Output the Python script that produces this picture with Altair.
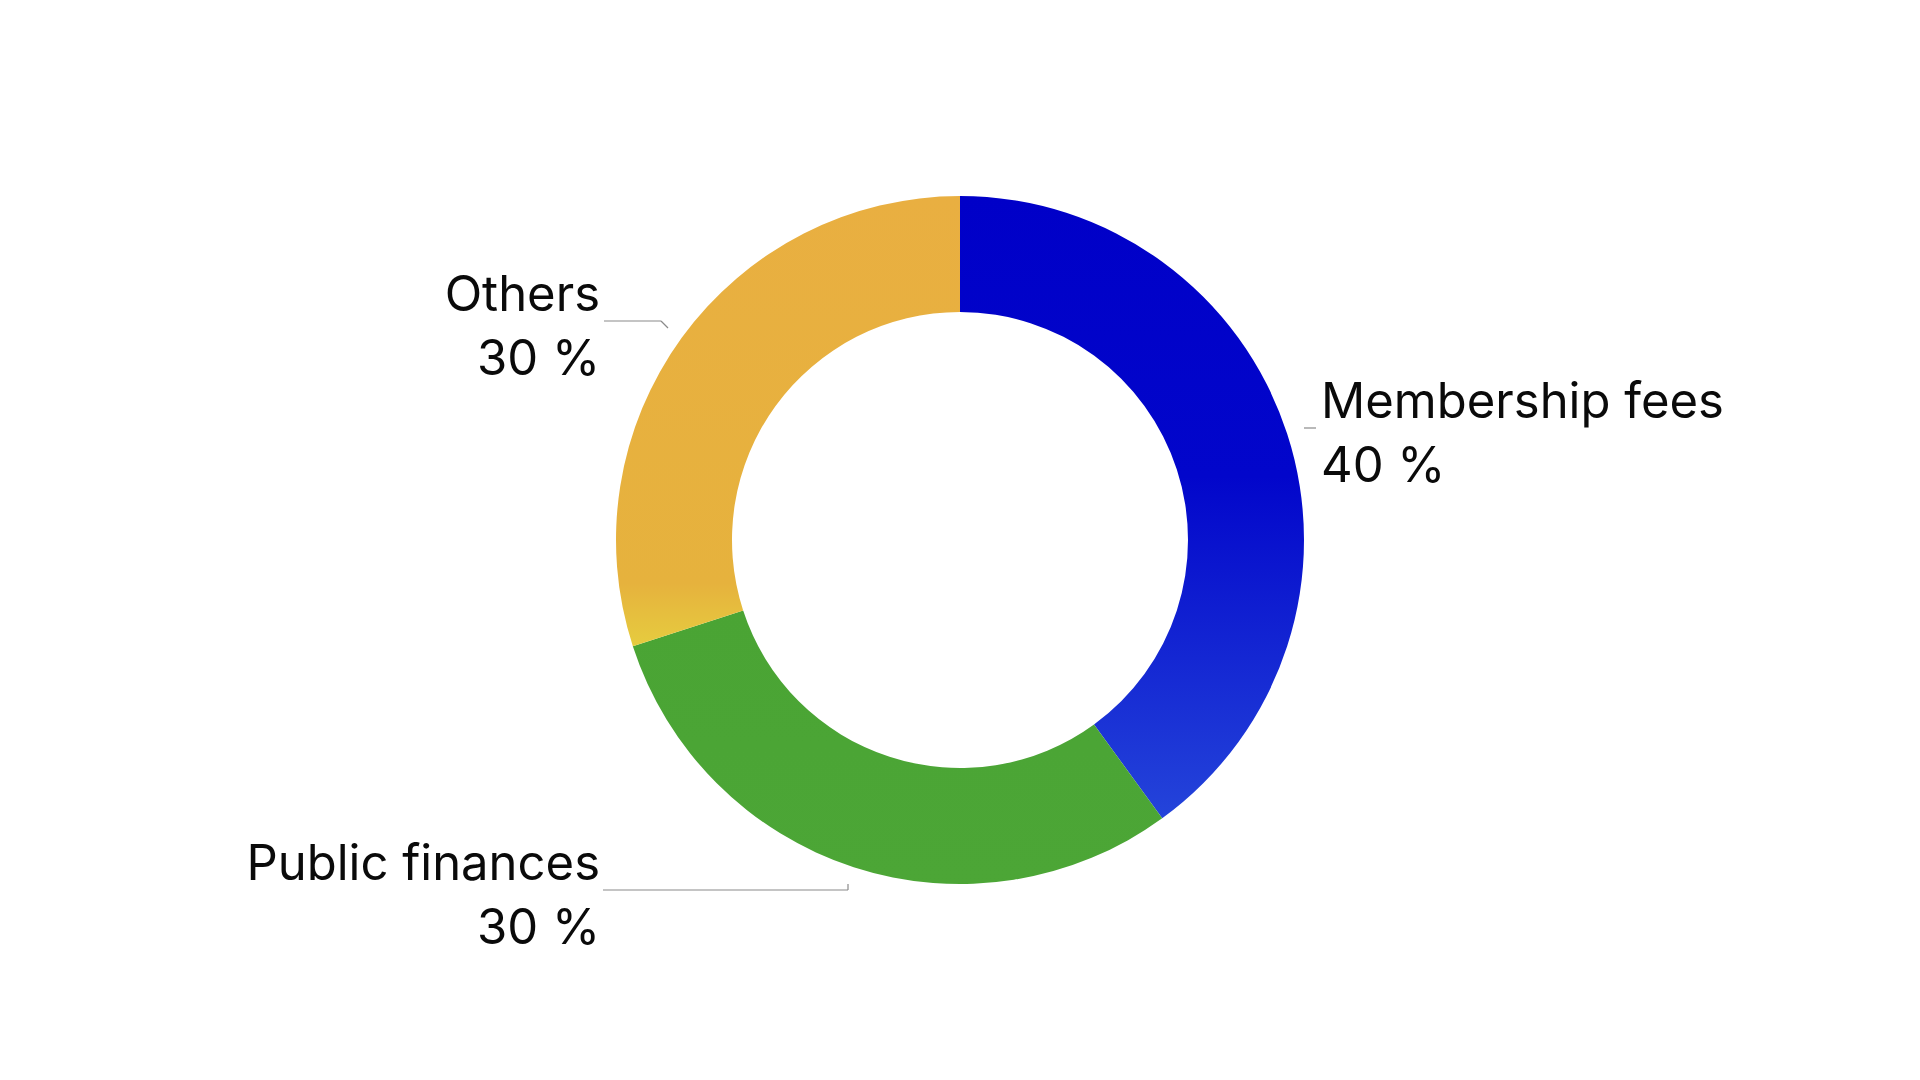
import altair as alt
import pandas as pd

categories = ["Membership fees", "Public finances", "Others"]
values = [40, 30, 30]
order = [0, 1, 2]

df = pd.DataFrame({"category": categories, "value": values, "order": order})

FONT = "Inter"
FS = 49
OX, OY = 8, 8  # page margin offset

def G(stops):
    return alt.Gradient(
        gradient="linear",
        stops=[alt.GradientStop(color=c, offset=o) for o, c in stops],
        x1=0, x2=0, y1=0, y2=1,
    )

fills = {
    "Membership fees": G([(0, "#0000C8"), (0.45, "#0206CB"), (1, "#2444DA")]),
    "Public finances": G([(0, "#4AA434"), (1, "#4CA636")]),
    "Others": G([(0, "#E9AF41"), (0.86, "#E6B23D"), (1, "#E6CC3F")]),
}

base = (
    alt.Chart(df)
    .transform_window(cum="sum(value)", sort=[alt.SortField("order")])
    .transform_calculate(start="datum.cum - datum.value", pct="datum.value + ' %'")
)

theta_scale = alt.Scale(domain=[0, 100])

layers = []
for cat in categories:
    layers.append(
        base.transform_filter(alt.datum.category == cat)
        .mark_arc(radius=344, radius2=228, color=fills[cat], stroke=None)
        .encode(
            theta=alt.Theta("start:Q", scale=theta_scale),
            theta2="cum:Q",
        )
    )

label_pos = {
    "Membership fees": ("left", 1321, 418),
    "Public finances": ("right", 600, 880),
    "Others": ("right", 600, 311),
}
for cat in categories:
    al, x, y = label_pos[cat]
    f = base.transform_filter(alt.datum.category == cat)
    layers.append(
        f.mark_text(align=al, baseline="alphabetic", font=FONT, fontSize=FS, color="#0a0a0a")
        .encode(x=alt.value(x - OX), y=alt.value(y - OY), text="category:N")
    )
    layers.append(
        f.mark_text(align=al, baseline="alphabetic", font=FONT, fontSize=FS, color="#0a0a0a")
        .encode(x=alt.value(x - OX), y=alt.value(y + 64 - OY), text="pct:N")
    )

segments = [
    (604, 321, 661, 321),
    (661, 321, 668, 328),
    (1304, 428, 1316, 428),
    (603, 890, 848, 890),
    (848, 890, 848, 884),
]
for x1, y1, x2, y2 in segments:
    layers.append(
        alt.Chart(df.head(1))
        .mark_rule(color="#8a8a8a", strokeWidth=1.2)
        .encode(
            x=alt.value(x1 - OX), x2=alt.value(x2 - OX),
            y=alt.value(y1 - OY), y2=alt.value(y2 - OY),
        )
    )

chart = (
    alt.layer(*layers)
    .properties(width=1904, height=1064, padding=0, background="white")
    .configure_view(stroke=None)
)

chart.save("out.html", embed_options={"renderer": "svg", "actions": False})
